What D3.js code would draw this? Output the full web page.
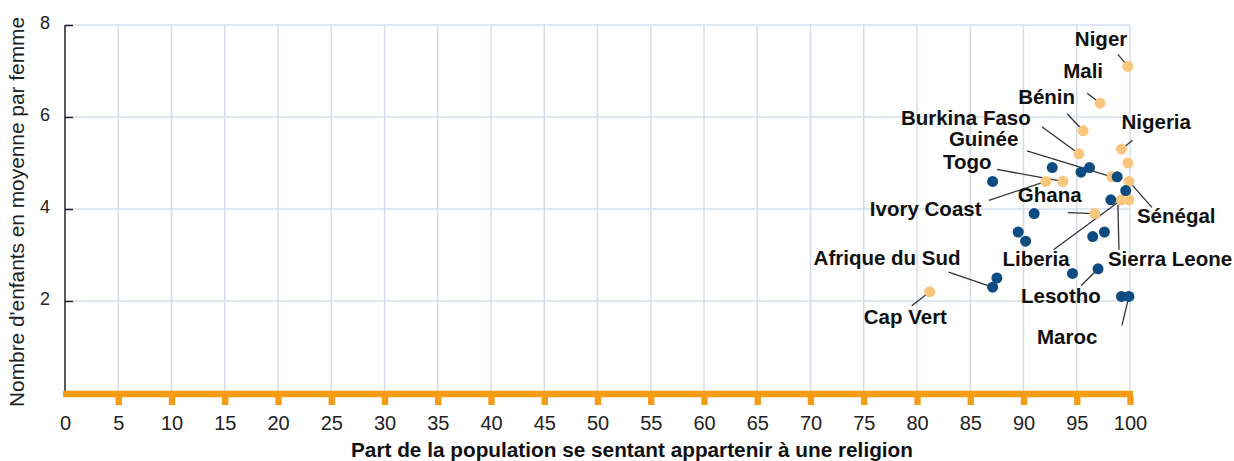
<!DOCTYPE html>
<html>
<head>
<meta charset="utf-8">
<title>Religion et fécondité</title>
<script src="https://d3js.org/d3.v7.min.js"></script>
<style>
  body { margin: 0; background: #fff; }
  svg text { font-family: "Liberation Sans", Arial, sans-serif; }
</style>
</head>
<body>
<script>
// data: part of population with a religion (%), children per woman
var westNames = ["Niger", "Mali", "Bénin", "Burkina Faso", "Nigeria", "", "Guinée", "Togo", "Ivory Coast", "Sénégal", "Ghana", "Liberia", "Sierra Leone", "Cap Vert"];
var westReligion = [99.8, 97.2, 95.6, 95.2, 99.2, 99.8, 98.3, 93.7, 92.1, 99.9, 96.7, 99.2, 99.9, 81.2];
var westFertility = [7.1, 6.3, 5.7, 5.2, 5.3, 5.0, 4.7, 4.6, 4.6, 4.6, 3.9, 4.2, 4.2, 2.2];

var otherNames = ["", "", "", "", "", "", "", "", "", "", "", "", "", "Afrique du Sud", "", "Lesotho", "", "Maroc"];
var otherReligion = [92.7, 96.2, 95.4, 98.8, 87.1, 99.6, 98.2, 91.0, 89.5, 90.2, 96.5, 97.6, 87.5, 87.1, 94.6, 97.0, 99.2, 99.9];
var otherFertility = [4.9, 4.9, 4.8, 4.7, 4.6, 4.4, 4.2, 3.9, 3.5, 3.3, 3.4, 3.5, 2.5, 2.3, 2.6, 2.7, 2.1, 2.1];

var xTicks = d3.range(0, 101, 5);
var yTicks = [2, 4, 6, 8];

// label layout: text offset and leader start, in px from the point
var labelLayout = {
  "Niger":          {tx: -53, ty: -20, lx: -10, ly: -12},
  "Mali":           {tx: -37, ty: -25, lx: -13, ly: -10},
  "Bénin":          {tx: -65, ty: -27, lx: -16, ly: -17},
  "Burkina Faso":   {tx: -178, ty: -29, lx: -37, ly: -27},
  "Nigeria":        {tx: 0, ty: -20, lx: 11, ly: -9},
  "Guinée":         {tx: -163, ty: -31, lx: -85, ly: -26},
  "Togo":           {tx: -120, ty: -12, lx: -66, ly: -12},
  "Ivory Coast":    {tx: -176, ty: 35, lx: -57, ly: 19},
  "Sénégal":        {tx: 8, ty: 42, lx: 23, ly: 26},
  "Ghana":          {tx: -77, ty: -12, lx: -27, ly: -1},
  "Liberia":        {tx: -119, ty: 66, lx: -68, ly: 50},
  "Sierra Leone":   {tx: -21, ty: 66, lx: -10, ly: 50, ex: -11, ey: 5},
  "Cap Vert":       {tx: -66, ty: 32, lx: -18, ly: 14},
  "Afrique du Sud": {tx: -179, ty: -22, lx: -44, ly: -15},
  "Lesotho":        {tx: -77, ty: 34, lx: -17, ly: 17},
  "Maroc":          {tx: -92, ty: 48, lx: -7, ly: 29}
};

var margin = {top: 25, left: 65},
    width = 1065, height = 368;

var svg = d3.select("body").append("svg")
    .attr("width", 1234)
    .attr("height", 461)
  .append("g")
    .attr("transform", "translate(" + margin.left + "," + margin.top + ")");

var x = d3.scaleLinear().domain([0, 100]).range([0, width]);
var y = d3.scaleLinear().domain([0, 8]).range([height, 0]);

var west = westNames.map(function(n, i) { return {name: n, r: westReligion[i], f: westFertility[i]}; });
var other = otherNames.map(function(n, i) { return {name: n, r: otherReligion[i], f: otherFertility[i]}; });

// grid
svg.append("g")
  .selectAll("line")
  .data(xTicks.slice(1))
  .enter().append("line")
    .attr("x1", function(d) { return x(d); })
    .attr("x2", function(d) { return x(d); })
    .attr("y1", 0).attr("y2", height)
    .attr("stroke", "#d4dcec").attr("stroke-width", 1.5);
svg.append("g")
  .selectAll("line")
  .data(yTicks)
  .enter().append("line")
    .attr("x1", 0).attr("x2", width)
    .attr("y1", function(d) { return y(d); })
    .attr("y2", function(d) { return y(d); })
    .attr("stroke", "#d4dcec").attr("stroke-width", 1.5);

// y axis
var yAxis = svg.append("g")
    .call(d3.axisRight(y).tickValues(yTicks).tickSize(8).tickFormat(d3.format("d")));
yAxis.select(".domain").attr("stroke", "#222").attr("stroke-width", 1.5).attr("d", "M0," + height + "V0");
yAxis.selectAll(".tick line").attr("stroke", "#222").attr("stroke-width", 1.5);
yAxis.selectAll(".tick text")
    .attr("x", -15).attr("dy", "0.2em")
    .attr("text-anchor", "end")
    .attr("font-size", 18).attr("fill", "#222");

// x axis (orange)
var xAxis = svg.append("g")
    .attr("transform", "translate(0," + (height + 1) + ")")
    .call(d3.axisBottom(x).tickValues(xTicks).tickSize(0).tickPadding(22));
xAxis.select(".domain").remove();
xAxis.append("line")
    .attr("x1", -2).attr("x2", width + 3)
    .attr("stroke", "#f59c17").attr("stroke-width", 6.5);
xAxis.selectAll(".tick").filter(function(d) { return d > 0; })
  .append("rect")
    .attr("x", -3.2).attr("y", 2).attr("width", 6.4).attr("height", 9)
    .attr("fill", "#f59c17");
xAxis.selectAll(".tick text")
    .attr("font-size", 20).attr("fill", "#222");

// axis titles
svg.append("text")
    .attr("x", 567)
    .attr("y", height + 64)
    .attr("text-anchor", "middle")
    .attr("font-size", 20).attr("font-weight", "bold").attr("fill", "#111")
    .attr("textLength", 562).attr("lengthAdjust", "spacingAndGlyphs")
    .text("Part de la population se sentant appartenir à une religion");
svg.append("text")
    .attr("transform", "rotate(-90)")
    .attr("x", -187)
    .attr("y", -41)
    .attr("text-anchor", "middle")
    .attr("font-size", 20).attr("fill", "#222")
    .attr("textLength", 390).attr("lengthAdjust", "spacingAndGlyphs")
    .text("Nombre d'enfants en moyenne par femme");

// leader lines
var labelled = west.concat(other).filter(function(d) { return d.name; });
svg.append("g")
  .selectAll("line")
  .data(labelled)
  .enter().append("line")
    .attr("x1", function(d) { return x(d.r) + labelLayout[d.name].lx; })
    .attr("y1", function(d) { return y(d.f) + labelLayout[d.name].ly; })
    .attr("x2", function(d) { return x(d.r) + (labelLayout[d.name].ex || 0); })
    .attr("y2", function(d) { return y(d.f) + (labelLayout[d.name].ey || 0); })
    .attr("stroke", "#333").attr("stroke-width", 1.3);

// points
svg.append("g")
  .selectAll("circle")
  .data(west)
  .enter().append("circle")
    .attr("cx", function(d) { return x(d.r); })
    .attr("cy", function(d) { return y(d.f); })
    .attr("r", 5.5)
    .attr("fill", "#f8c67c");
svg.append("g")
  .selectAll("circle")
  .data(other)
  .enter().append("circle")
    .attr("cx", function(d) { return x(d.r); })
    .attr("cy", function(d) { return y(d.f); })
    .attr("r", 5.5)
    .attr("fill", "#0d4c80");

// labels
svg.append("g")
  .selectAll("text")
  .data(labelled)
  .enter().append("text")
    .attr("x", function(d) { return x(d.r) + labelLayout[d.name].tx; })
    .attr("y", function(d) { return y(d.f) + labelLayout[d.name].ty; })
    .attr("font-size", 20.5).attr("font-weight", "bold").attr("fill", "#111")
    .text(function(d) { return d.name; });
</script>
</body>
</html>
